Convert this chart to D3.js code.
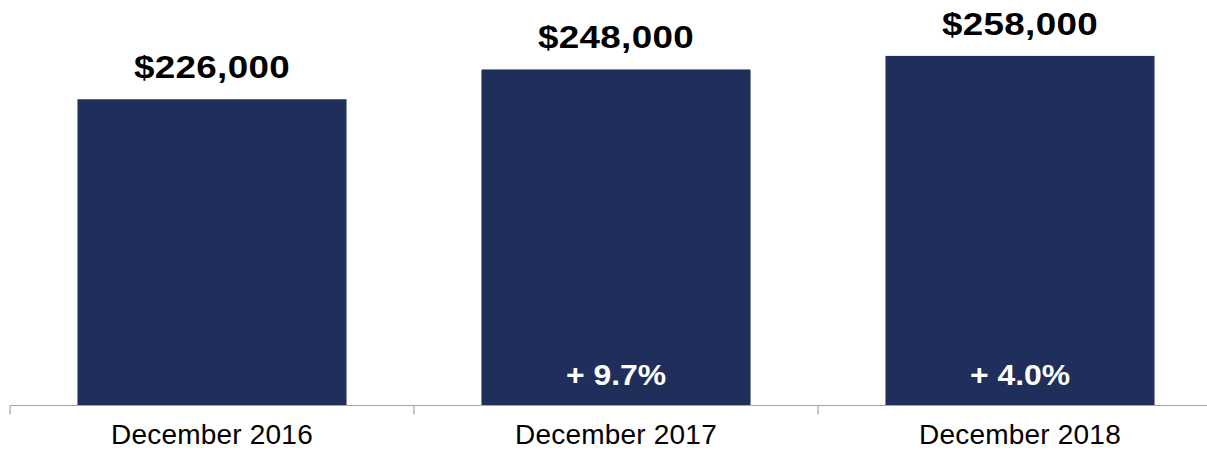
<!DOCTYPE html>
<html><head><meta charset="utf-8">
<script src="https://cdn.jsdelivr.net/npm/d3@7/dist/d3.min.js"></script>
<style>body{margin:0;background:#fff}svg{display:block}</style>
</head><body>
<svg id="chart" width="1207" height="450"></svg>
<script>
const categories = ["December 2016", "December 2017", "December 2018"];
const values = [226000, 248000, 258000];
const valueLabels = ["$226,000", "$248,000", "$258,000"];
const changeLabels = [null, "+ 9.7%", "+ 4.0%"];

const svg = d3.select("#chart");
const baseY = 405.5;
const x = d3.scaleBand().domain(categories).range([10, 1222]).paddingInner(0.334).paddingOuter(0.167);
const y = d3.scaleLinear().domain([0, 300000]).range([baseY, baseY - 300000 * 0.001355]);

svg.selectAll("rect.bar").data(values).join("rect")
  .attr("class", "bar")
  .attr("x", (d, i) => x(categories[i]))
  .attr("width", x.bandwidth())
  .attr("y", d => y(d))
  .attr("height", d => y(0) - y(d))
  .attr("fill", "#1f2e5b");

// axis
const axisG = svg.append("g").attr("transform", `translate(0,${baseY})`);
axisG.append("line").attr("x1", 10).attr("x2", 1222).attr("y1", 0).attr("y2", 0)
  .attr("stroke", "#a6a6a6").attr("stroke-width", 1.2);
const step = x.step();
const tickXs = d3.range(categories.length + 1).map(i => x(categories[0]) - x.step() * x.paddingOuter() + i * step);
axisG.selectAll("line.tick").data(tickXs).join("line").attr("class", "tick")
  .attr("x1", d => d).attr("x2", d => d).attr("y1", 0).attr("y2", 9)
  .attr("stroke", "#a6a6a6").attr("stroke-width", 1.2);
axisG.selectAll("text.cat").data(categories).join("text").attr("class", "cat")
  .attr("x", d => x(d) + x.bandwidth() / 2)
  .attr("y", 38)
  .attr("text-anchor", "middle")
  .attr("font-family", "Liberation Sans, Arial, sans-serif")
  .attr("font-size", 28)
  .attr("letter-spacing", 0.2)
  .attr("fill", "#000")
  .text(d => d);

// value labels
svg.selectAll("g.val").data(values).join("g").attr("class", "val")
  .attr("transform", (d, i) => `translate(${x(categories[i]) + x.bandwidth() / 2},${y(d) - 21}) scale(1.15,1)`)
  .append("text")
  .attr("text-anchor", "middle")
  .attr("font-family", "Liberation Sans, Arial, sans-serif")
  .attr("font-weight", "bold")
  .attr("font-size", 32)
  .attr("letter-spacing", 0.3)
  .attr("fill", "#000")
  .text((d, i) => valueLabels[i]);

// change labels
svg.selectAll("g.chg").data(changeLabels.map((c, i) => ({c, i})).filter(d => d.c)).join("g").attr("class", "chg")
  .attr("transform", d => `translate(${x(categories[d.i]) + x.bandwidth() / 2},${baseY - 21}) scale(1.1,1)`)
  .append("text")
  .attr("text-anchor", "middle")
  .attr("font-family", "Liberation Sans, Arial, sans-serif")
  .attr("font-weight", "bold")
  .attr("font-size", 29)
  .attr("fill", "#fff")
  .text(d => d.c);
</script>
</body></html>
